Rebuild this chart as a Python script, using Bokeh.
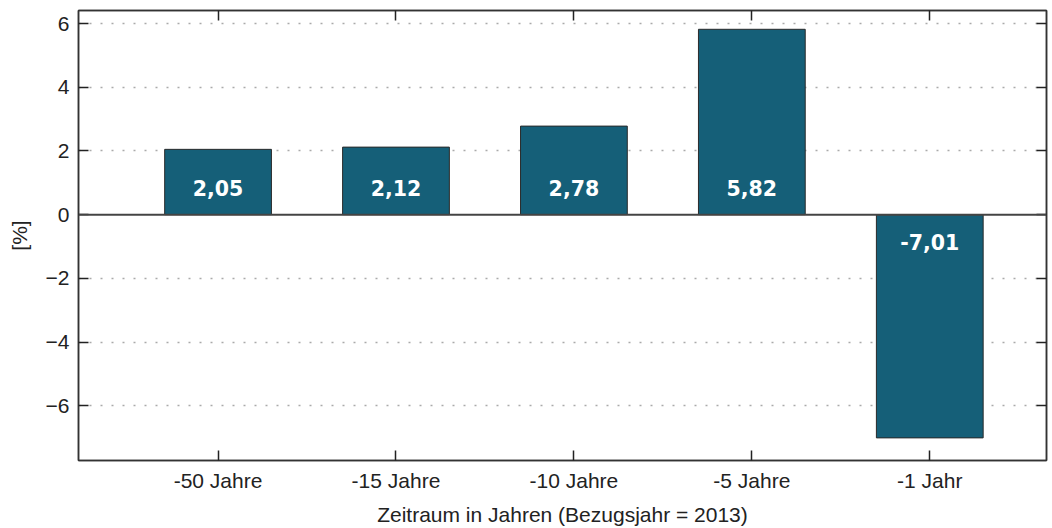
from bokeh.plotting import figure
from bokeh.models import Range1d, FixedTicker, LinearAxis, Span, ColumnDataSource
from bokeh.core.properties import value
from bokeh.embed import file_html
from bokeh.resources import INLINE

categories = ["-50 Jahre", "-15 Jahre", "-10 Jahre", "-5 Jahre", "-1 Jahr"]
values = [2.05, 2.12, 2.78, 5.82, -7.01]
labels = ["2,05", "2,12", "2,78", "5,82", "-7,01"]
y_ticks = [-6, -4, -2, 0, 2, 4, 6]

xs = list(range(1, len(categories) + 1))
label_y = [0.84 if v >= 0 else -0.87 for v in values]

src = ColumnDataSource(dict(x=xs, top=values, lab=labels, ly=label_y))

p = figure(width=1048, height=528, output_backend="svg", toolbar_location=None,
           x_range=Range1d(0.2157, 5.656), y_range=Range1d(-7.72, 6.41),
           min_border_left=78, min_border_right=2, min_border_top=10, min_border_bottom=68)
p.background_fill_color = "white"
p.border_fill_color = "white"
p.outline_line_color = "#333333"
p.outline_line_width = 1.5

p.vbar(x="x", top="top", bottom=0, width=0.6, source=src,
       fill_color="#155f78", line_color="#2a2a2a", line_width=1)

p.add_layout(Span(location=0, dimension="width", line_color="#444444", line_width=2))

p.text(x="x", y="ly", text="lab", source=src, text_color="white",
       text_font=value("DejaVu Sans"), text_font_style="bold", text_font_size="20.5px",
       text_align="center", text_baseline="middle")

font = "Liberation Sans"
ly = p.yaxis[0]
ly.ticker = FixedTicker(ticks=y_ticks)
ly.major_label_overrides = {t: ("\u2212" + str(abs(t)) if t < 0 else str(t)) for t in y_ticks}
ly.axis_label = "[%]"
bx = p.xaxis[0]
bx.ticker = FixedTicker(ticks=xs)
bx.major_label_overrides = {x: c for x, c in zip(xs, categories)}
bx.axis_label = "Zeitraum in Jahren (Bezugsjahr = 2013)"

ra = LinearAxis(ticker=FixedTicker(ticks=y_ticks),
                major_label_overrides={t: "" for t in y_ticks})
ta = LinearAxis(ticker=FixedTicker(ticks=xs),
                major_label_overrides={x: "" for x in xs})
p.add_layout(ra, "right")
p.add_layout(ta, "above")

for ax in [ly, bx, ra, ta]:
    ax.axis_line_color = "#333333"
    ax.axis_line_width = 1.5
    ax.major_tick_in = 10
    ax.major_tick_out = 0
    ax.major_tick_line_color = "#222222"
    ax.major_tick_line_width = 1.5
    ax.minor_tick_line_color = None
    ax.major_label_text_font = font
    ax.major_label_text_color = "#222222"
    ax.axis_label_text_font = font
    ax.axis_label_text_font_style = "normal"
    ax.axis_label_text_color = "#222222"
    ax.axis_label_text_font_size = "21px"
    ax.major_label_text_font_size = "21px"
ly.major_label_standoff = 9
bx.major_label_standoff = 8
ly.axis_label_standoff = 12
bx.axis_label_standoff = 8
ra.major_label_standoff = 0
ta.major_label_standoff = 0
ra.major_label_text_font_size = "1px"
ta.major_label_text_font_size = "1px"

p.xgrid.grid_line_color = None
p.ygrid.ticker = FixedTicker(ticks=[-6, -4, -2, 2, 4, 6])
p.ygrid.grid_line_color = "#aaaaaa"
p.ygrid.grid_line_dash = "2 9"
p.ygrid.grid_line_width = 1.5

open("out.html", "w").write(file_html(p, INLINE))
